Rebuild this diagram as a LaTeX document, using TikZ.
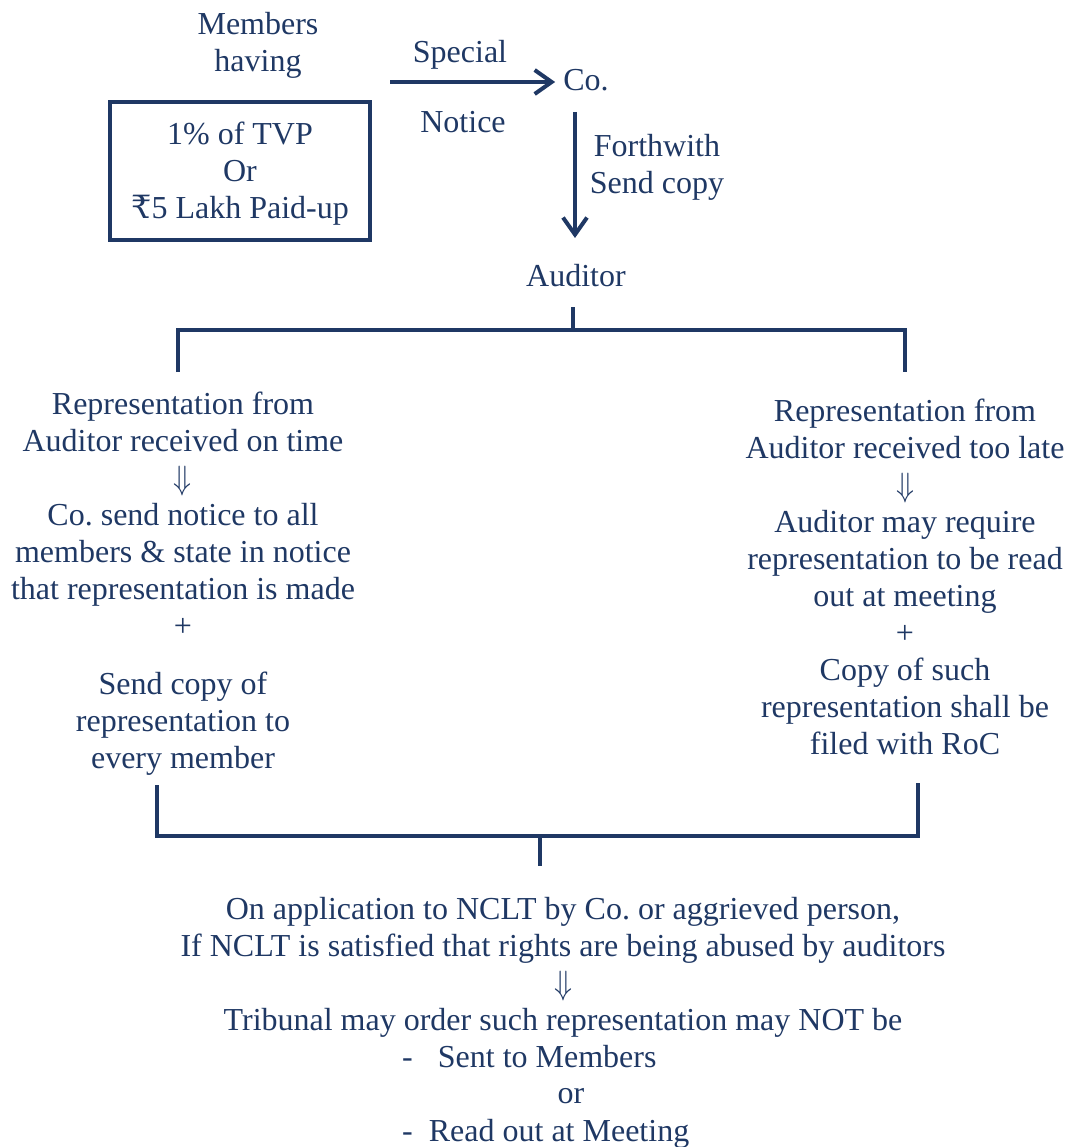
\documentclass[tikz,border=0pt]{standalone}
\usepackage{graphicx}
\usepackage{fontspec}
\setmainfont{Liberation Serif}
\newfontfamily\rupeefont{DejaVu Serif}
\usetikzlibrary{arrows.meta}
\definecolor{navy}{HTML}{1F3864}
\newcommand\dnarr{\raisebox{-1pt}{\resizebox*{18pt}{30pt}{$\Downarrow$}}}
\newcommand\plussign{+}
\frenchspacing
\begin{document}
\begin{tikzpicture}[x=1pt,y=-1pt,
  every node/.style={text=navy,font=\fontsize{32}{37}\selectfont\frenchspacing,inner sep=0pt},
  txt/.style={align=center},
  ln/.style={draw=navy,line width=4.5pt},
  arr/.style={draw=navy,line width=4pt,-{Straight Barb[length=17pt,width=24pt]}}]
\useasboundingbox (0,0) rectangle (1068,1147);
% top part
\node[txt] (members) at (258,45) {Members\\having};
\node[txt,draw=navy,line width=4.5pt,minimum width=260pt,minimum height=138pt] (box) at (240,171) {};
\node[txt] (boxtext) at (240,174) {1\% of TVP\\Or\\{\rupeefont ₹}5 Lakh Paid-up};
\node (special) at (460,55) {Special};
\node (notice) at (463,122) {Notice};
\node (co) at (586,80) {Co.};
\coordinate (a1) at (390,82);
\draw[arr] (a1) -- ([xshift=-8pt]co.west |- a1);
\node[txt] (fw) at (657,167) {Forthwith\\Send copy};
\node (auditor) at (576,276) {Auditor};
\coordinate (v1) at (575,112);
\coordinate (v2) at (575,238);
\draw[arr] (v1) -- (v2);
% top bracket
\coordinate (t0) at (573,307);
\coordinate (tm) at (573,330);
\coordinate (tl) at (178,330);
\coordinate (tr) at (905,330);
\coordinate (tld) at (178,372);
\coordinate (trd) at (905,372);
\draw[ln] (t0) -- (tm);
\draw[ln] (tld) -- (tl) -- (tr) -- (trd);
% left block
\node[txt] (left) at (183,584)
  {Representation from\\Auditor received on time\\\dnarr\\Co. send notice to all\\members \& state in notice\\that representation is made\\\plussign\\[21pt]Send copy of\\representation to\\every member};
% right block
\node[txt] (right) at (905,577)
  {Representation from\\Auditor received too late\\\dnarr\\Auditor may require\\representation to be read\\out at meeting\\\plussign\\Copy of such\\representation shall be\\filed with RoC};
% bottom bracket
\coordinate (bl) at (157,785);
\coordinate (blc) at (157,836);
\coordinate (brc) at (918,836);
\coordinate (br) at (918,783);
\coordinate (bm) at (540,836);
\coordinate (bmd) at (540,866);
\draw[ln] (bl) -- (blc) -- (brc) -- (br);
\draw[ln] (bm) -- (bmd);
% bottom text
\node[txt] (bottom) at (563,967)
  {On application to NCLT by Co. or aggrieved person,\\If NCLT is satisfied that rights are being abused by auditors\\\dnarr\\Tribunal may order such representation may NOT be};
\node[anchor=west] (sent) at (402,1057) {-\hspace{25pt}Sent to Members};
\node (or) at (571,1096) {or};
\node[anchor=west] (read) at (402,1134) {-\hspace{16pt}Read out at Meeting};
\end{tikzpicture}
\end{document}
